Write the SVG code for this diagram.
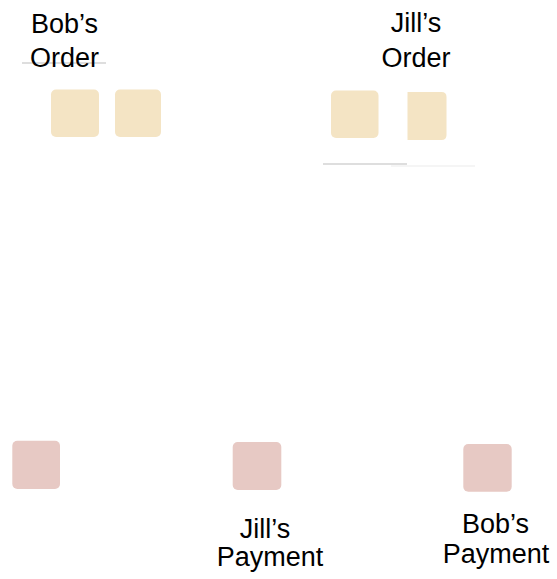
<svg xmlns="http://www.w3.org/2000/svg" width="557" height="579" viewBox="0 0 557 579">
<defs>
<style>
.t{font-family:"Liberation Sans",Arial,sans-serif;font-size:27px;fill:#000;text-anchor:middle}
.ord{fill:#f4e4c4}
.pay{fill:#e7c9c4}
.ln{stroke:#bdbdbd;stroke-width:1.2;fill:none}
</style>
<filter id="soft" x="-10%" y="-10%" width="120%" height="120%"><feGaussianBlur stdDeviation="0.6"/></filter>
</defs>
<rect width="557" height="579" fill="#fff"/>
<g id="connectors">
<line class="ln" x1="22" y1="63" x2="106" y2="63"/>
<line class="ln" x1="323" y1="164" x2="407" y2="164"/>
<line x1="391" y1="166" x2="475" y2="166" stroke="#ececec" stroke-width="1.2"/>
</g>
<g id="bob-order">
<text class="t" x="64.5" y="33">Bob’s</text>
<text class="t" x="64.5" y="67">Order</text>
<rect class="ord" x="51" y="89.5" width="48" height="47.5" rx="5" filter="url(#soft)"/>
<rect class="ord" x="115" y="89.5" width="46" height="47.5" rx="5" filter="url(#soft)"/>
</g>
<g id="jill-order">
<text class="t" x="416" y="32">Jill’s</text>
<text class="t" x="416" y="67">Order</text>
<rect class="ord" x="331" y="90.5" width="47.5" height="47.5" rx="5" filter="url(#soft)"/>
<path class="ord" d="M407.5 92 H441.5 Q446.5 92 446.5 97 V135 Q446.5 140 441.5 140 H407.5 Z" filter="url(#soft)"/>
</g>
<g id="payment-left">
<rect class="pay" x="12.3" y="440.7" width="47.7" height="48.3" rx="5" filter="url(#soft)"/>
</g>
<g id="jill-payment">
<rect class="pay" x="232.7" y="442" width="48.6" height="48" rx="5" filter="url(#soft)"/>
<text class="t" x="265" y="537.5">Jill’s</text>
<text class="t" x="270" y="566">Payment</text>
</g>
<g id="bob-payment">
<rect class="pay" x="463.3" y="444" width="48.4" height="47.7" rx="5" filter="url(#soft)"/>
<text class="t" x="495.5" y="533">Bob’s</text>
<text class="t" x="496" y="563">Payment</text>
</g>
</svg>
